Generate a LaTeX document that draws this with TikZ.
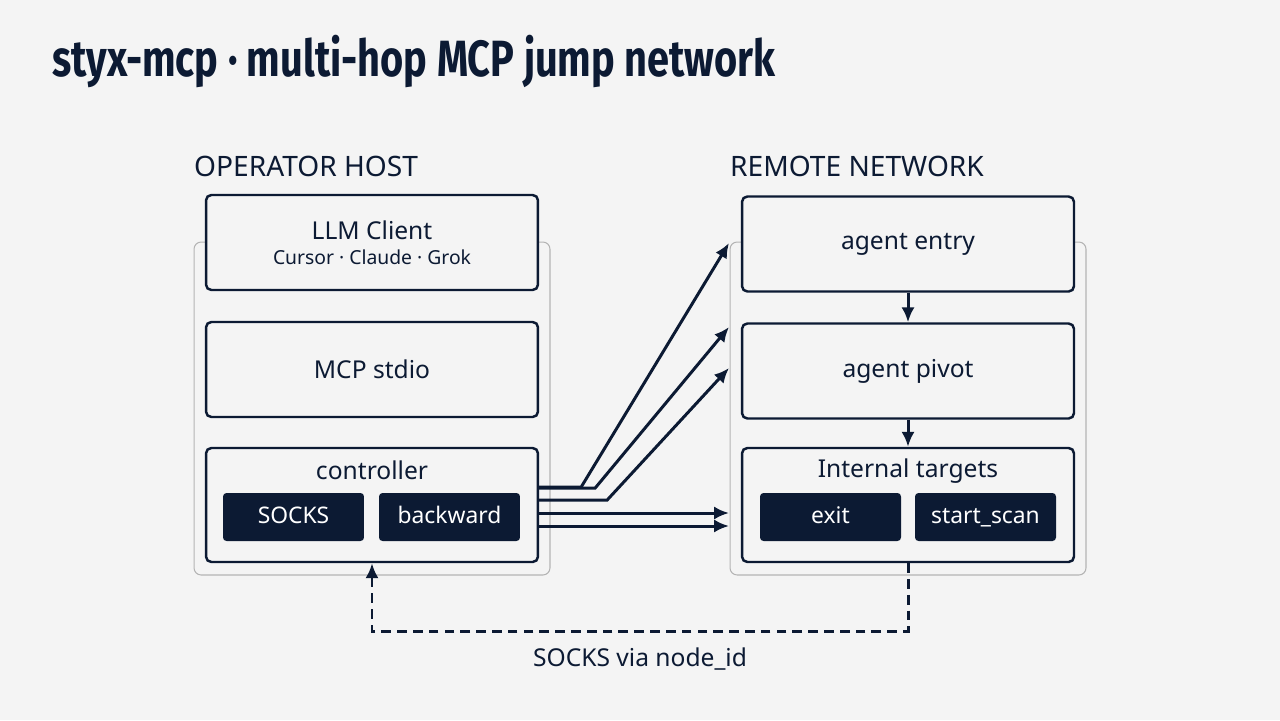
\documentclass[tikz,border=0pt]{standalone}
\usepackage{fontspec}
\setmainfont{Noto Sans}
\newfontfamily\titlefont{Fira Sans}[FakeStretch=0.78]
\usetikzlibrary{arrows.meta,positioning}
\definecolor{ink}{HTML}{0C1A33}
\definecolor{paper}{HTML}{F4F4F4}
\definecolor{frame}{HTML}{B4B4B4}
\tikzset{
  hostbox/.style={draw=ink,line width=1.4pt,rounded corners=3pt,fill=paper,minimum width=6.64cm,minimum height=1.9cm,align=center,font=\fontsize{14}{15}\selectfont},
  tallbox/.style={hostbox,minimum height=2.28cm},
  chip/.style={fill=ink,rounded corners=2pt,text=white,minimum width=2.82cm,minimum height=0.96cm,text height=0.93em,text depth=0.22em,font=\fontsize{13}{14}\selectfont},
  group/.style={draw=frame,line width=0.6pt,rounded corners=4pt,minimum width=7.12cm,minimum height=6.66cm},
  grouptitle/.style={anchor=west,font=\fontsize{16}{18}\selectfont},
  flow/.style={draw=ink,line width=1.7pt,-{Latex[length=8.5pt,width=7.5pt]}},
  socks/.style={flow,dash pattern=on 5.5pt off 3.5pt}
}
\begin{document}
\begin{tikzpicture}[x=0.02cm,y=-0.02cm,color=ink]
\fill[paper](0,0)rectangle(1280,720);
\useasboundingbox(0,0)rectangle(1280,720);
\node[anchor=base west,font=\titlefont\bfseries\fontsize{29}{32}\selectfont](title)at(46,76){styx-mcp · multi-hop MCP jump network};
\node[grouptitle](optitle)at(188,166){OPERATOR HOST};
\node[grouptitle](remtitle)at(724,166){REMOTE NETWORK};
\node[group](operator)at(372,408.5){};
\node[group](remote)at(908,408.5){};
\node[hostbox](llm)at(372,242.5){LLM Client\\[-1pt]{\fontsize{11}{13}\selectfont Cursor · Claude · Grok}};
\node[hostbox](stdio)at(372,369.5){MCP stdio};
\node[tallbox](ctrl)at(372,505){};
\node[font=\fontsize{14}{15}\selectfont](ctrltitle)at(372,470){controller};
\node[chip](socks)at(293.5,517){SOCKS};
\node[chip](backward)at(449.5,517){backward};
\node[hostbox](entry)at(908,244){agent entry};
\node[hostbox](pivot)at(908,371){agent pivot};
\node[tallbox](targets)at(908,505){};
\node[font=\fontsize{14}{15}\selectfont](tgttitle)at(908,471){Internal targets};
\node[chip](exit)at(830.5,517){exit};
\node[chip](scan)at(985.5,517){start\_scan};
\coordinate(in1)at(729,243);
\coordinate(in2)at(729,327);
\coordinate(in3)at(729,368);
\coordinate(in4)at(729,513);
\coordinate(in5)at(729,526);
\draw[flow]([shift={(0,-18)}]ctrl.east)--++(42,0)--(in1);
\draw[flow]([shift={(0,-17)}]ctrl.east)--++(56,0)--(in2);
\draw[flow]([shift={(0,-5)}]ctrl.east)--++(68,0)--(in3);
\draw[flow]([shift={(0,8)}]ctrl.east)--(in4);
\draw[flow]([shift={(0,21)}]ctrl.east)--(in5);
\draw[flow](entry)--(pivot);
\draw[flow](pivot)--(targets);
\draw[socks](targets.south)--++(0,68)-|node[pos=0.25,below=5pt,font=\fontsize{14}{15}\selectfont](via){SOCKS via node\_id}(ctrl.south);
\end{tikzpicture}
\end{document}
